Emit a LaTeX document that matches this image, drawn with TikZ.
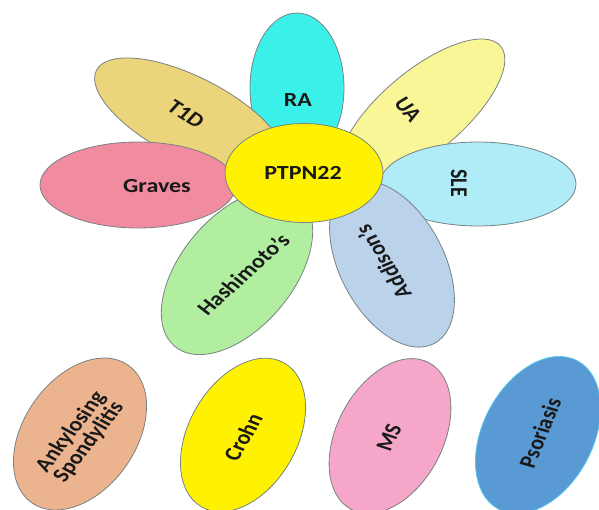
\documentclass[tikz,border=0pt]{standalone}
\usepackage{fontspec}
\setmainfont{Carlito}
\usetikzlibrary{shapes.geometric}

\definecolor{raFill}{RGB}{60,240,234}
\definecolor{tidFill}{RGB}{236,212,122}
\definecolor{uaFill}{RGB}{249,246,152}
\definecolor{sleFill}{RGB}{176,236,248}
\definecolor{gravesFill}{RGB}{241,140,160}
\definecolor{hashiFill}{RGB}{178,238,160}
\definecolor{addiFill}{RGB}{186,210,234}
\definecolor{ankyFill}{RGB}{236,180,142}
\definecolor{msFill}{RGB}{246,166,200}
\definecolor{psoFill}{RGB}{90,154,212}
\definecolor{psoLine}{RGB}{90,200,240}
\definecolor{rimGray}{RGB}{120,130,130}

\begin{document}
\begin{tikzpicture}[x=1pt,y=-1pt,
  petal/.style={ellipse,draw=rimGray,line width=0.8pt,inner sep=0pt},
  lbl/.style={font=\fontsize{20}{18}\selectfont\bfseries,align=center,text=black!90,xscale=1.2}
]
\useasboundingbox (0,0) rectangle (599,510);

% petals round the centre
\node[petal,fill=raFill,minimum width=94pt,minimum height=150pt] (ra) at (297,88) {};
\node[petal,fill=uaFill,minimum width=205pt,minimum height=82pt,rotate=40] (ua) at (422,112) {};
\node[petal,fill=tidFill,minimum width=210pt,minimum height=82pt,rotate=-27] (tid) at (190,118) {};
\node[petal,fill=sleFill,minimum width=196pt,minimum height=84pt] (sle) at (478,184) {};
\node[petal,fill=gravesFill,minimum width=196pt,minimum height=86pt] (graves) at (138,185) {};
\node[petal,fill=addiFill,minimum width=180pt,minimum height=104pt,rotate=-62] (addi) at (392,264) {};
\node[petal,fill=hashiFill,minimum width=194pt,minimum height=112pt,rotate=50] (hashi) at (237,272) {};
\node[petal,fill=yellow,minimum width=158pt,minimum height=99pt] (ptpn) at (304,173) {};

\node[lbl] (ralbl) at (298,100) {RA};
\node[lbl,rotate=-37] (tidlbl) at (186,114) {T1D};
\node[lbl,rotate=-54] (ualbl) at (408,110) {UA};
\node[lbl,rotate=-90] (slelbl) at (459,183) {SLE};
\node[lbl] (graveslbl) at (157,186) {Graves};
\node[lbl,rotate=47] (hashilbl) at (243,274) {Hashimoto's};
\node[lbl,rotate=117] (addilbl) at (383,262) {Addison's};
\node[lbl] (ptpnlbl) at (303,173) {PTPN22};

% separate ones below
\node[petal,fill=ankyFill,minimum width=168pt,minimum height=112pt,rotate=55] (anky) at (80,434) {};
\node[petal,fill=yellow,minimum width=166pt,minimum height=108pt,rotate=60] (crohn) at (243,435) {};
\node[petal,fill=msFill,minimum width=166pt,minimum height=106pt,rotate=62] (ms) at (390,436) {};
\node[petal,draw=psoLine,fill=psoFill,minimum width=168pt,minimum height=110pt,rotate=62] (pso) at (538,435) {};

\node[lbl,rotate=57] (ankylbl) at (80,437) {Ankylosing\\Spondylitis};
\node[lbl,rotate=64] (crohnlbl) at (243,437) {Crohn};
\node[lbl,rotate=68] (mslbl) at (389,438) {MS};
\node[lbl,rotate=71] (psolbl) at (540,433) {Psoriasis};
\end{tikzpicture}
\end{document}
